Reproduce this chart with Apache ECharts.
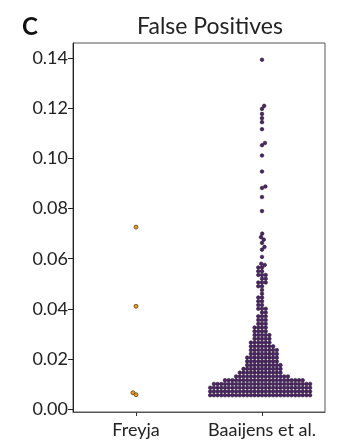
<!DOCTYPE html>
<html>
<head>
<meta charset="utf-8">
<script src="https://cdn.jsdelivr.net/npm/echarts@6/dist/echarts.min.js"></script>
<style>
  html, body { margin: 0; padding: 0; background: #fff; }
  #chart { width: 345px; height: 444px; }
</style>
</head>
<body>
<div id="chart"></div>
<script>
// Groups on the x axis
const categories = ['Freyja', 'Baaijens et al.'];
// Y axis tick values
const yTicks = [0, 0.02, 0.04, 0.06, 0.08, 0.10, 0.12, 0.14];

// Freyja false-positive frequencies
const freyjaValues = [0.0726, 0.041, 0.0065, 0.0057];

// Baaijens et al.: dense part as value levels with the number of samples at each level
const baaijensLevels = [
  0.0055, 0.0070, 0.0085, 0.0100, 0.0115, 0.0130, 0.0145, 0.0160, 0.0175, 0.0190,
  0.0205, 0.0220, 0.0235, 0.0250, 0.0265, 0.0280, 0.0295, 0.0310, 0.0325, 0.0340,
  0.0355, 0.0370, 0.0385, 0.0400, 0.0415, 0.0430, 0.0445, 0.0460, 0.0475, 0.0490,
  0.0505, 0.0520, 0.0535, 0.0550, 0.0565
];
const baaijensCounts = [
  28, 28, 28, 27, 22, 15, 12, 11, 10, 9,
  9, 8, 8, 7, 6, 5, 5, 4, 4, 3,
  3, 3, 2, 3, 2, 2, 2, 1, 1, 2,
  3, 2, 3, 2, 2
];
// Baaijens et al.: sparse upper tail, one sample each
const baaijensTail = [
  0.0575, 0.0580, 0.0607, 0.0636, 0.0647, 0.0663, 0.0676, 0.0686, 0.0700,
  0.0790, 0.0846, 0.0882, 0.0888, 0.0948, 0.1012, 0.1053, 0.1062,
  0.1117, 0.1145, 0.1161, 0.1178, 0.1198, 0.1210, 0.1394
];

const FONT = 'Lato';
const DOT = 3.6;

const chart = echarts.init(document.getElementById('chart'), null, { renderer: 'canvas' });

const baseOption = {
  animation: false,
  backgroundColor: '#fff',
  textStyle: { fontFamily: FONT },
  title: [
    { text: 'C', left: 17, top: 10, textStyle: { fontFamily: FONT, fontSize: 24, fontWeight: 'bold', color: '#111' } },
    { text: 'False Positives', left: 205, top: 10, textAlign: 'center',
      textStyle: { fontFamily: FONT, fontSize: 23, fontWeight: 'normal', color: '#222' } }
  ],
  grid: {
    left: 73, right: 20, top: 43, bottom: 32,
    show: true, borderColor: '#555', borderWidth: 1, backgroundColor: 'transparent'
  },
  xAxis: {
    type: 'value', min: -0.5, max: 1.5,
    splitLine: { show: false },
    axisLine: { show: true, onZero: false, lineStyle: { color: '#555', width: 1 } },
    axisTick: { show: true, length: 4, customValues: [0, 1], lineStyle: { color: '#333' } },
    axisLabel: {
      customValues: [0, 1], margin: 9,
      formatter: v => categories[Math.round(v)] || '',
      fontFamily: FONT, fontSize: 18, color: '#222'
    }
  },
  yAxis: {
    type: 'value', min: -0.0012, max: 0.1461,
    splitLine: { show: false },
    axisLine: { show: true, onZero: false, lineStyle: { color: '#222', width: 1 } },
    axisTick: { show: true, length: 5, customValues: yTicks, lineStyle: { color: '#222' } },
    axisLabel: {
      customValues: yTicks, margin: 5,
      formatter: v => v.toFixed(2),
      fontFamily: FONT, fontSize: 18, color: '#222'
    }
  },
  series: [
    { type: 'scatter', data: [] },
    { type: 'scatter', data: [] }
  ]
};
chart.setOption(baseOption);

// Swarm layout in pixel space: each point goes to the free spot nearest the group centre
function swarmOffsets(values, d) {
  const pts = values.map((v, i) => ({ i, v, py: chart.convertToPixel({ gridIndex: 0 }, [0, v])[1] }));
  pts.sort((a, b) => a.v - b.v);
  const placed = [];
  const out = new Array(values.length).fill(0);
  let flip = 1;
  pts.forEach(p => {
    const near = placed.filter(q => Math.abs(q.py - p.py) < d);
    const cands = [0];
    near.forEach(q => {
      const dx = Math.sqrt(Math.max(0, d * d - (q.py - p.py) ** 2));
      cands.push(q.x + dx, q.x - dx);
    });
    cands.sort((a, b) => (Math.abs(a) - Math.abs(b)) || (flip * (b - a)));
    let x = 0;
    for (const c of cands) {
      if (near.every(q => (q.x - c) ** 2 + (q.py - p.py) ** 2 >= d * d - 1e-6)) { x = c; break; }
    }
    flip = -flip;
    placed.push({ x, py: p.py });
    out[p.i] = x;
  });
  return out;
}

const pxPerUnitX = chart.convertToPixel({ gridIndex: 0 }, [1, 0])[0] - chart.convertToPixel({ gridIndex: 0 }, [0, 0])[0];

const baaijensValues = [];
baaijensLevels.forEach((lv, k) => { for (let n = 0; n < baaijensCounts[k]; n++) baaijensValues.push(lv); });
baaijensTail.forEach(v => baaijensValues.push(v));

function buildData(values, catIndex) {
  const offs = swarmOffsets(values, DOT + 0.1);
  return values.map((v, i) => [catIndex + offs[i] / pxPerUnitX, v]);
}

chart.setOption({
  series: [
    {
      name: categories[0], type: 'scatter', symbol: 'circle', symbolSize: DOT + 0.4,
      data: buildData(freyjaValues, 0),
      itemStyle: { color: '#e9a11d', borderColor: '#4a2e0c', borderWidth: 0.7, opacity: 1 }
    },
    {
      name: categories[1], type: 'scatter', symbol: 'circle', symbolSize: DOT,
      data: buildData(baaijensValues, 1),
      itemStyle: { color: '#4e2569', borderColor: '#25122f', borderWidth: 0.6, opacity: 1 }
    }
  ]
});
</script>
</body>
</html>
